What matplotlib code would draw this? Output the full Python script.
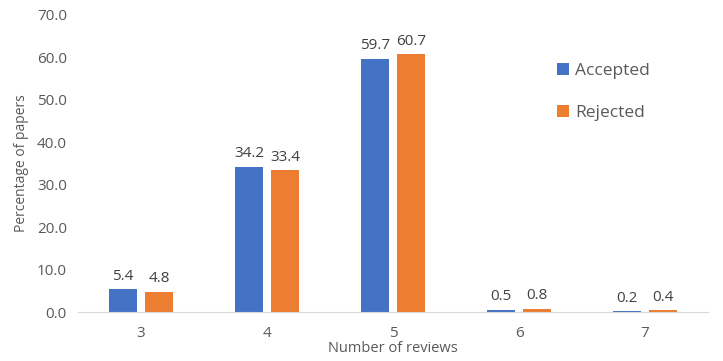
import matplotlib
matplotlib.use('Agg')
import matplotlib.pyplot as plt
import numpy as np

plt.rcParams['font.family'] = ['Open Sans', 'DejaVu Sans']

reviews = ['3', '4', '5', '6', '7']
accepted = [5.4, 34.2, 59.7, 0.5, 0.2]
rejected = [4.8, 33.4, 60.7, 0.8, 0.4]

gray = '#595959'
fig = plt.figure(figsize=(7.23, 3.61), dpi=100)
ax = fig.add_axes([78 / 723, 49 / 361, 630 / 723, 297 / 361])

x = np.arange(len(reviews))
w = 0.222
b1 = ax.bar(x - 0.143, accepted, w, color='#4472C4', label='Accepted')
b2 = ax.bar(x + 0.143, rejected, w, color='#ED7D31', label='Rejected')
for bars in (b1, b2):
    for r in bars:
        ax.annotate(f'{r.get_height():.1f}', (r.get_x() + r.get_width() / 2, r.get_height()),
                    xytext=(0, 4), textcoords='offset points', ha='center', va='bottom',
                    fontsize=11, color='#404040')

ax.set_xlim(-0.5, len(reviews) - 0.5)
ax.set_ylim(0, 70)
ax.set_yticks(range(0, 71, 10))
ax.set_yticklabels([f'{v:.1f}' for v in range(0, 71, 10)])
ax.set_xticks(x)
ax.set_xticklabels(reviews)
ax.tick_params(axis='both', length=0, labelsize=11, colors=gray, pad=8)
ax.tick_params(axis='x', pad=10)
for s in ['top', 'right', 'left']:
    ax.spines[s].set_visible(False)
ax.spines['bottom'].set_color('#D9D9D9')
ax.set_xlabel('Number of reviews', fontsize=10.5, color=gray, labelpad=0)
ax.set_ylabel('Percentage of papers', fontsize=10, color=gray, labelpad=6)

fig.legend(loc='upper left', bbox_to_anchor=(548 / 723, 1 - 54 / 361), frameon=False,
           fontsize=12.5, labelcolor=gray, handlelength=0.7, handleheight=0.7,
           handletextpad=0.35, labelspacing=1.5, borderpad=0)

plt.savefig('out.png', dpi=100)
